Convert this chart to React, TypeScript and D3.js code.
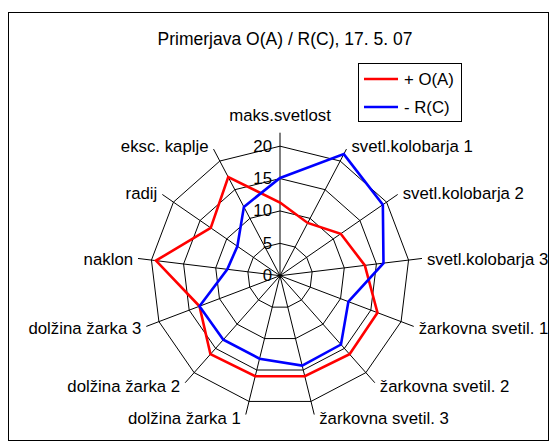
import * as React from "react"
import * as d3 from "d3"

const categories = [
  "maks.svetlost",
  "svetl.kolobarja 1",
  "svetl.kolobarja 2",
  "svetl.kolobarja 3",
  "žarkovna svetil. 1",
  "žarkovna svetil. 2",
  "žarkovna svetil. 3",
  "dolžina žarka 1",
  "dolžina žarka 2",
  "dolžina žarka 3",
  "naklon",
  "radij",
  "eksc. kaplje",
]
const seriesOA = [11.3, 9.2, 11.4, 13.2, 16.1, 16.2, 16.0, 16.0, 16.2, 13.3, 19.3, 13.0, 17.2]
const seriesRC = [15.1, 21.2, 19.3, 16.1, 11.3, 14.2, 14.3, 13.2, 13.2, 13.3, 8.2, 8.0, 12.0]
const tickValues = [0, 5, 10, 15, 20]
const seriesNames = ["+ O(A)", "- R(C)"]
const seriesColors = ["#ff0000", "#0000ff"]

const W = 557
const H = 448
const cx = 280
const cy = 275.7
const font = "'Liberation Sans', Arial, sans-serif"

export default function App() {
  const n = categories.length
  const r = d3.scaleLinear().domain([0, 20]).range([0, 129.5])
  const angle = d3.scaleLinear().domain([0, n]).range([0, 2 * Math.PI])
  const spokeLen = 143

  const radial = d3
    .lineRadial<number>()
    .angle((_, i) => angle(i))
    .radius((d) => r(d))
    .curve(d3.curveLinearClosed)

  const ring = (v: number) => radial(categories.map(() => v)) || ""

  return (
    <svg
      width={W}
      height={H}
      style={{ position: "absolute", left: 0, top: 0, background: "#fff" }}
      fontFamily={font}
    >
      <rect x={8.5} y={12.5} width={540} height={428} fill="#fff" stroke="#000" strokeWidth={1} />
      <text x={285} y={39} textAnchor="middle" dominantBaseline="central" fontSize={17.5}>
        Primerjava O(A) / R(C), 17. 5. 07
      </text>

      <g transform={`translate(${cx},${cy})`}>
        {tickValues.slice(1).map((t) => (
          <path key={t} d={ring(t)} fill="none" stroke="#000" strokeWidth={1} />
        ))}
        {categories.map((c, i) => {
          const a = angle(i)
          return (
            <line
              key={c}
              x1={0}
              y1={0}
              x2={spokeLen * Math.sin(a)}
              y2={-spokeLen * Math.cos(a)}
              stroke="#000"
              strokeWidth={1}
            />
          )
        })}
        {tickValues.map((t) => (
          <text key={t} x={-8} y={-r(t)} textAnchor="end" dominantBaseline="central" fontSize={16.8}>
            {t}
          </text>
        ))}
        {[seriesOA, seriesRC].map((s, k) => (
          <path
            key={k}
            d={radial(s) || ""}
            fill="none"
            stroke={seriesColors[k]}
            strokeWidth={2.6}
            strokeLinejoin="miter"
          />
        ))}
        {categories.map((c, i) => {
          const a = angle(i)
          const sx = spokeLen * Math.sin(a)
          const sy = -spokeLen * Math.cos(a)
          if (i === 0) {
            return (
              <text key={c} x={sx} y={sy - 17} textAnchor="middle" dominantBaseline="central" fontSize={16.8}>
                {c}
              </text>
            )
          }
          const right = Math.sin(a) > 0
          return (
            <text
              key={c}
              x={sx + (right ? 5 : -5)}
              y={sy + 1 - 3.5 * Math.cos(a)}
              textAnchor={right ? "start" : "end"}
              dominantBaseline="central"
              fontSize={16.8}
            >
              {c}
            </text>
          )
        })}
      </g>

      <g>
        <rect x={358.5} y={63.5} width={103} height={58} fill="#fff" stroke="#000" strokeWidth={1} />
        {seriesNames.map((name, k) => (
          <g key={name} transform={`translate(0,${79 + k * 28})`}>
            <line x1={364} x2={398} y1={0} y2={0} stroke={seriesColors[k]} strokeWidth={2.6} />
            <text x={404} y={0} dominantBaseline="central" fontSize={16.8}>
              {name}
            </text>
          </g>
        ))}
      </g>
    </svg>
  )
}
